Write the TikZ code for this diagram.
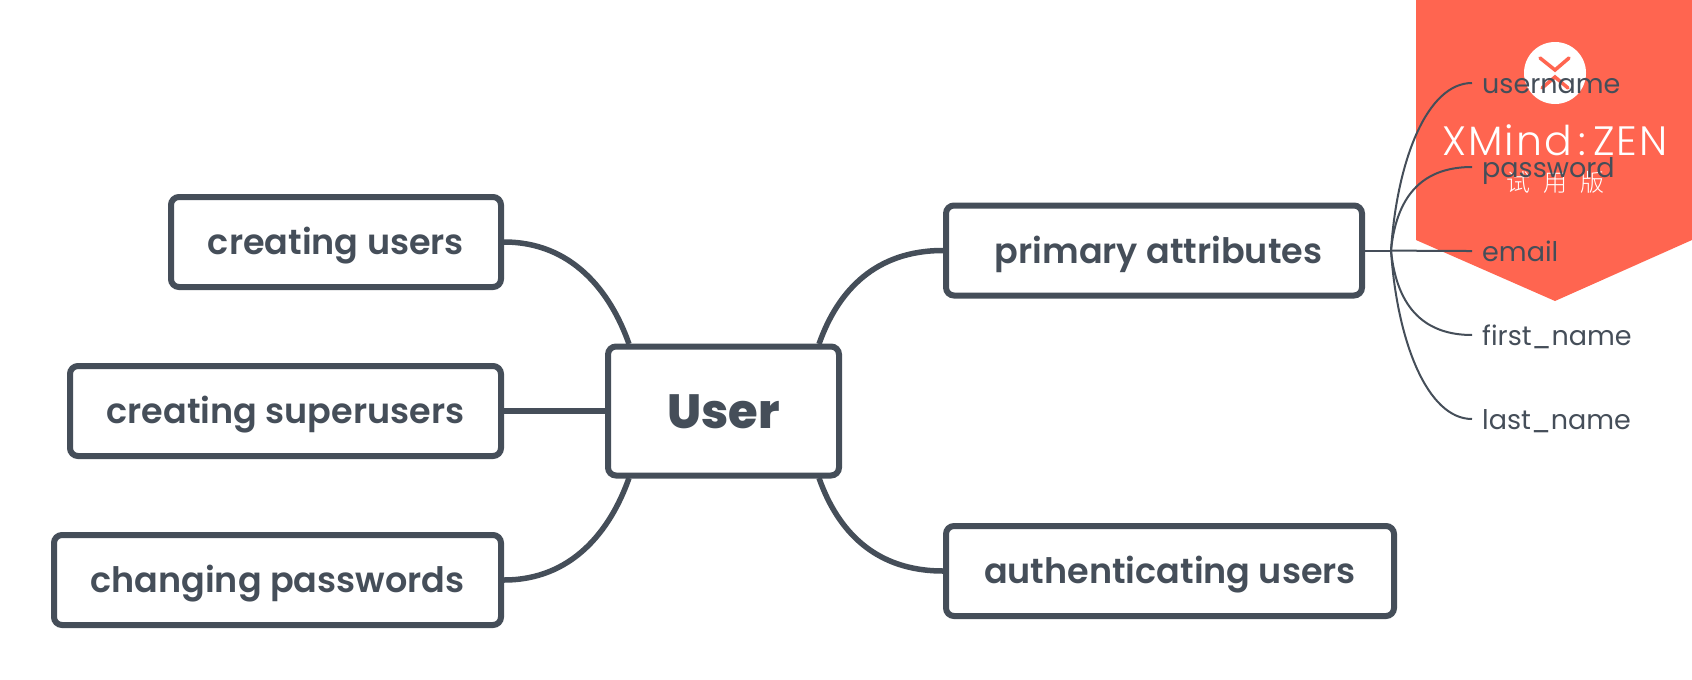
\documentclass[tikz,border=0pt]{standalone}
\usepackage{fontspec}
\setmainfont[BoldFont={Poppins SemiBold}]{Poppins}
\newfontfamily\heavyfont{Poppins ExtraBold}
\newfontfamily\brandfont[LetterSpace=5]{Poppins Light}
\newfontfamily\cjkfont{Noto Sans CJK SC Light}
\definecolor{inkgrey}{HTML}{454E59}
\definecolor{bannerred}{HTML}{FF6550}
\tikzset{
    topic/.style={draw=inkgrey,line width=6pt,rounded corners=8pt,fill=white,text=inkgrey,font=\fontsize{35}{40}\selectfont\bfseries,inner sep=0pt,text height=32pt,text depth=7pt},
    branch/.style={draw=inkgrey,line width=5.5pt},
    twig/.style={draw=inkgrey,line width=2pt},
    leaf/.style={text=inkgrey,font=\fontsize{27}{34}\selectfont,anchor=west,inner sep=0pt,text height=26pt,text depth=6pt}
}
\begin{document}
\begin{tikzpicture}[x=1pt,y=-1pt]
\useasboundingbox (0,0) rectangle (1692,680);
% watermark
\fill[bannerred] (1416,0) -- (1692,0) -- (1692,240) -- (1555,301) -- (1416,240) -- cycle;
\fill[white] (1555,73) circle (31);
\draw[bannerred,line width=3.5pt,line cap=round] (1540,58) -- (1555,70) -- (1569,58);
\draw[bannerred,line width=3.5pt,line cap=round] (1542,88) -- (1555,77) -- (1568,88);
\node[white,font=\fontsize{41}{48}\brandfont,anchor=base] (brand) at (1555,155) {XMind\,:\,ZEN};
\node[white,font=\fontsize{24}{28}\cjkfont] (edition) at (1555,182) {试\hspace{13pt}用\hspace{13pt}版};

\node[topic,minimum width=231pt,minimum height=129pt,font=\fontsize{48}{56}\heavyfont,text height=40pt,text depth=6pt] (user) at (723.5,411) {User};
\node[topic,minimum width=330pt,minimum height=90pt] (creating) at (336,242) {creating users};
\node[topic,minimum width=431pt,minimum height=90pt] (super) at (285.5,411) {creating superusers};
\node[topic,minimum width=447pt,minimum height=90pt] (changing) at (277.5,580) {changing passwords};
\node[topic,minimum width=416pt,minimum height=90pt] (primary) at (1154,250.5) {\hspace*{9pt}primary attributes};
\node[topic,minimum width=448pt,minimum height=90pt] (auth) at (1170,571) {authenticating users};

\coordinate (ul) at (629,344);
\coordinate (ur) at (819,344);
\coordinate (ll) at (629,478);
\coordinate (lr) at (819,478);
\coordinate (fork) at (1391,250.5);

\draw[branch] (creating.east) .. controls +(67,0) and +(-19,-54) .. (ul);
\draw[branch] (super) -- (user);
\draw[branch] (changing.east) .. controls +(67,0) and +(-19,54) .. (ll);
\draw[branch] (primary.west) .. controls +(-67,0) and +(19,-54) .. (ur);
\draw[branch] (auth.west) .. controls +(-67,0) and +(19,54) .. (lr);

\node[leaf] (username) at (1482,83) {username};
\node[leaf] (password) at (1482,167) {password};
\node[leaf] (email) at (1482,251) {email};
\node[leaf] (first) at (1482,335) {first\_name};
\node[leaf] (last) at (1482,419) {last\_name};

\draw[twig] (primary.east) -- (fork);
\foreach \leafname/\bend in {username/-90,password/-60,email/0,first/60,last/90}
    \draw[twig] (fork) .. controls +(6,\bend) and ([xshift=-55pt]\leafname.west) .. ([xshift=-10pt]\leafname.west);
\end{tikzpicture}
\end{document}
